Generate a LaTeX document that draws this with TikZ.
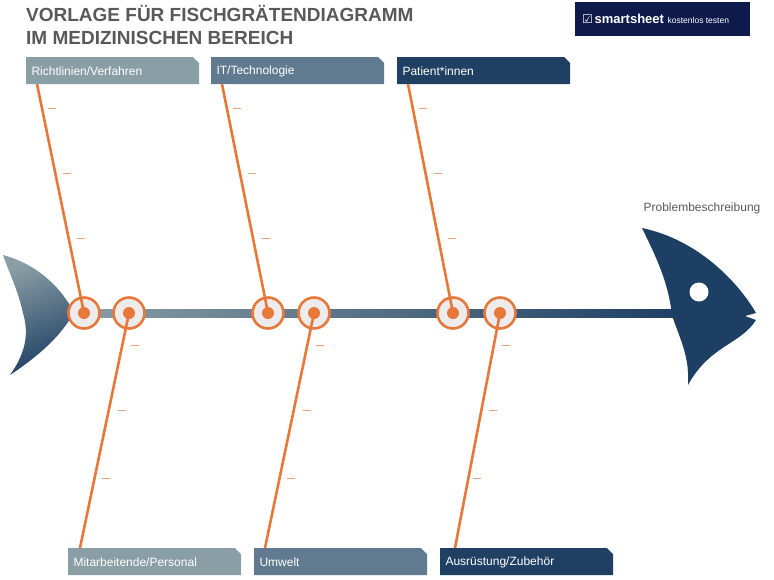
\documentclass[tikz,border=0pt]{standalone}
\usepackage{fontspec}
\setmainfont{Liberation Sans}
\newfontfamily\symfont{DejaVu Sans}
\usepackage{xcolor}
\usetikzlibrary{arrows.meta, positioning, shapes.geometric}
\definecolor{boneorange}{HTML}{E8773A}
\definecolor{ringfill}{HTML}{EDEBEB}
\definecolor{catlight}{HTML}{8A9EA5}
\definecolor{catmid}{HTML}{607B8F}
\definecolor{catdark}{HTML}{1F3F63}
\definecolor{fishblue}{HTML}{1E3F64}
\definecolor{logonavy}{HTML}{0E1A4C}
\definecolor{titlegrey}{HTML}{595959}
\tikzset{
  joint/.style={circle, draw=boneorange, line width=2.6pt, fill=ringfill, minimum size=31pt, inner sep=0pt},
  bone/.style={boneorange, line width=2.6pt},
  tick/.style={boneorange!70, line width=0.6pt},
  catlabel/.style={text=white, font=\fontsize{12}{14}\selectfont, anchor=west}
}
\newcommand{\catbox}[4]{% x, y, colour, text
  \fill[#3] (#1,#2) -- ++(167,0) -- ++(6,6) -- ++(0,21) -- ++(-173,0) -- cycle;
  \node[catlabel] at ([xshift=2pt]#1,#2+14) {#4};
}
\begin{document}
\begin{tikzpicture}[x=1pt, y=-1pt]
    \useasboundingbox (0,0) rectangle (774,579);

    % Title and logo
    \node[anchor=north west, inner sep=0pt, text=titlegrey, align=left,
      font=\fontsize{19}{23}\selectfont\bfseries] (title) at (26,5)
      {VORLAGE FÜR FISCHGRÄTENDIAGRAMM\\IM MEDIZINISCHEN BEREICH};
    \fill[logonavy] (575,2) rectangle (750,36);
    \node[anchor=west, text=white, inner sep=0pt] (logo) at (582,19)
      {{\symfont\fontsize{12}{12}\selectfont ☑}\,\fontsize{13}{13}\selectfont\textbf{smartsheet} \fontsize{8.5}{10}\selectfont kostenlos testen};

    % Spine
    \shade[left color=catlight, right color=fishblue] (70,309) rectangle (680,317);

    % Tail
    \shade[top color=catlight, bottom color=fishblue, shading angle=20]
      (3,255) .. controls (40,265) and (62,290) .. (74,312)
      .. controls (62,335) and (40,355) .. (10,375)
      .. controls (28,350) and (28,330) .. (23,313)
      .. controls (18,290) and (8,270) .. cycle;

    % Head
    \fill[fishblue] (642,228) .. controls (700,240) and (740,285) .. (756,313)
      -- (745,316) -- (756,320)
      .. controls (740,345) and (710,345) .. (688,385)
      .. controls (690,355) and (678,335) .. (672,315)
      .. controls (668,280) and (655,255) .. cycle;
    \fill[white] (699,292) circle (9.5);
    \node[text=titlegrey, font=\fontsize{12}{14}\selectfont] (problem) at (702,208) {Problembeschreibung};

    % Category boxes
    \catbox{26}{57}{catlight}{Richtlinien/Verfahren}
    \catbox{211}{57}{catmid}{IT/Technologie}
    \catbox{397}{57}{catdark}{Patient*innen}
    \catbox{68}{548}{catlight}{Mitarbeitende/Personal}
    \catbox{254}{548}{catmid}{Umwelt}
    \catbox{440}{548}{catdark}{Ausrüstung/Zubehör}

    % Bone ends
    \coordinate (r1) at (37,84);
    \coordinate (r2) at (222,84);
    \coordinate (r3) at (408,84);
    \coordinate (b1) at (80,548);
    \coordinate (b2) at (265,548);
    \coordinate (b3) at (455,548);

    % Joints
    \foreach \x/\n in {84/j1, 129/k1, 268/j2, 314/k2, 453/j3, 500/k3}
      \node[joint] (\n) at (\x,313) {};

    % Bones
    \foreach \j/\e in {j1/r1, j2/r2, j3/r3, k1/b1, k2/b2, k3/b3} {
      \draw[bone] (\j.center) -- (\e);
      \fill[boneorange] (\j.center) circle (6);
    }

    % Small ticks
    \foreach \x in {0, 185, 371} {
      \draw[tick] (\x+48,108) -- ++(8,0);
      \draw[tick] (\x+63,173) -- ++(8,0);
      \draw[tick] (\x+77,238) -- ++(8,0);
      \draw[tick] (\x+131,345) -- ++(8,0);
      \draw[tick] (\x+118,410) -- ++(8,0);
      \draw[tick] (\x+102,478) -- ++(8,0);
    }
\end{tikzpicture}
\end{document}
